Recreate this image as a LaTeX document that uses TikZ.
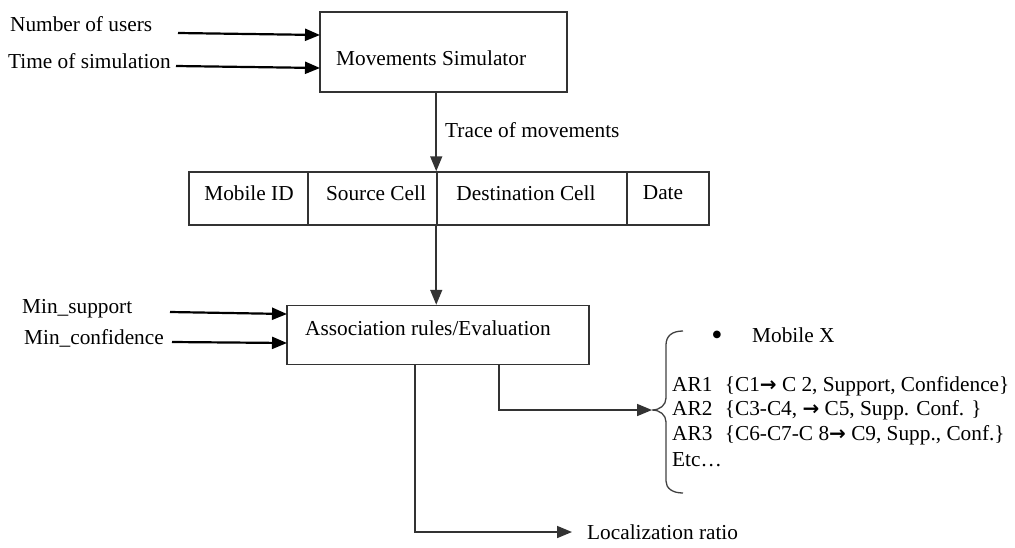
\documentclass[tikz,border=0pt]{standalone}
\usepackage{fontspec}
\setmainfont{Liberation Serif}
\newfontfamily\symfont{DejaVu Sans}
\usetikzlibrary{arrows.meta}
\newcommand{\rarr}{{\symfont\bfseries\fontsize{20}{24}\selectfont →}}
\begin{document}
\begin{tikzpicture}[x=1pt,y=-1pt,
  font=\fontsize{21.3}{25}\selectfont,
  box/.style={draw=black!80, line width=1.5pt, inner sep=0pt},
  txt/.style={inner sep=0pt, anchor=west},
  arr/.style={line width=1.6pt, draw=black!80, -{Triangle[length=15pt,width=12pt]}},
  inarr/.style={arr, line width=2.2pt, draw=black}]
\useasboundingbox (0,0) rectangle (1015,547);
% Movements simulator
\node[box, minimum width=247pt, minimum height=80pt] (sim) at (443.5,52) {};
\node[txt] (simt) at (336,58) {Movements Simulator};
% inputs
\node[txt] (nu) at (10,24) {Number of users};
\node[txt] (ts) at (8,61) {Time of simulation};
\coordinate (nuA) at (178,33);
\coordinate (nuB) at (320,35);
\coordinate (tsA) at (176,66);
\coordinate (tsB) at (320,68);
\draw[inarr] (nuA) -- (nuB);
\draw[inarr] (tsA) -- (tsB);
% table
\node[box, minimum width=119pt, minimum height=53pt] (c1) at (248.5,198.5) {};
\node[box, minimum width=129pt, minimum height=53pt] (c2) at (372.5,198.5) {};
\node[box, minimum width=190pt, minimum height=53pt] (c3) at (532,198.5) {};
\node[box, minimum width=82pt, minimum height=53pt] (c4) at (668,198.5) {};
\node[inner sep=0pt] (c1t) at (249,193) {Mobile ID};
\node[inner sep=0pt] (c2t) at (376,193) {Source Cell};
\node[inner sep=0pt] (c3t) at (526,193) {Destination Cell};
\node[inner sep=0pt] (c4t) at (663,193) {Date};
% trace arrow
\draw[arr] (sim.south -| c3.north west) -- (c3.north west);
\node[txt] (trace) at (445,130) {Trace of movements};
% association box
\node[box, minimum width=302pt, minimum height=59pt] (ar) at (438,335) {};
\node[txt] (art) at (305,328) {Association rules/Evaluation};
\draw[arr] (c3.south west) -- (c3.south west |- ar.north);
% min inputs
\node[txt] (ms) at (22,309) {Min\_support};
\node[txt] (mc) at (24,338) {Min\_confidence};
\coordinate (msA) at (170,312);
\coordinate (msB) at (287,314);
\coordinate (mcA) at (172,342);
\coordinate (mcB) at (287,343);
\draw[inarr] (msA) -- (msB);
\draw[inarr] (mcA) -- (mcB);
% localization
\node[txt] (loc) at (587,532) {Localization ratio};
\coordinate (locS) at (415,364.5);
\coordinate (locT) at (572,532);
\draw[arr] (locS) |- (locT);
% brace and rules
\coordinate (brT) at (652,410);
\coordinate (arS) at (499,364.5);
\draw[arr] (arS) |- (brT);
\draw[line width=1.3pt, draw=black!75] (683,331) .. controls (672,331) and (666,336) .. (666,345) -- (666,398)
  .. controls (666,405) and (660,410) .. (brT)
  .. controls (660,410) and (666,415) .. (666,422) -- (666,481)
  .. controls (666,488) and (672,493) .. (683,493);
\node[inner sep=0pt] (bul) at (717,335) {\symfont\fontsize{10}{12}\selectfont ●};
\node[txt] (mx) at (752,335) {Mobile X};
\node[txt] (r1) at (672,386) {AR1\,\, \{C1\rarr\ C 2, Support, Confidence\}};
\node[txt] (r2) at (672,410) {AR2\,\, \{C3-C4, \rarr\ C5, Supp. Conf. \}};
\node[txt] (r3) at (672,435) {AR3\,\, \{C6-C7-C 8\rarr\ C9, Supp., Conf.\}};
\node[txt] (r4) at (672,460) {Etc…};
\end{tikzpicture}
\end{document}
